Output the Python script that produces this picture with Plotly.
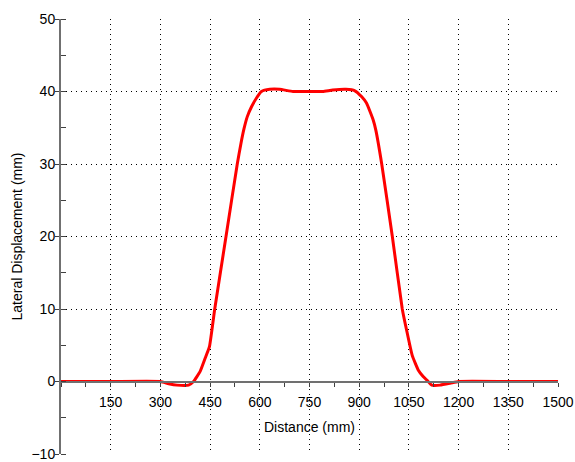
import plotly.graph_objects as go

# Data
distance_mm = [0, 150, 300, 325, 350, 385, 400, 420, 435, 448, 464, 498, 532,
               543, 552, 562, 575, 590, 605, 630, 660, 700, 740, 790, 820, 860,
               887, 907, 922, 942, 950, 968, 1000, 1030, 1043, 1060, 1078, 1093,
               1104, 1119, 1144, 1174, 1200, 1350, 1500]
lateral_mm = [0, 0, 0, -0.3, -0.5, -0.5, 0, 1.4, 3.2, 4.8, 10, 20, 30,
              32.8, 34.8, 36.5, 37.9, 39.1, 40.0, 40.3, 40.3, 40.0, 40.0, 40.0, 40.2, 40.3,
              40.1, 39.3, 38.4, 36.1, 34.7, 30, 20, 10, 7.1, 3.6, 1.6, 0.7,
              0.2, -0.5, -0.5, -0.25, 0, 0, 0]

x_ticks = [150, 300, 450, 600, 750, 900, 1050, 1200, 1350, 1500]
y_ticks = [-10, 0, 10, 20, 30, 40, 50]
x_range = [0, 1500]
y_range = [-10, 50]

FONT = "Liberation Sans, Arial, sans-serif"

fig = go.Figure()
fig.add_trace(go.Scatter(
    x=distance_mm, y=lateral_mm, mode="lines",
    line=dict(color="#ff0000", width=3, shape="spline", smoothing=0.4),
    showlegend=False,
))

fig.update_layout(
    width=575, height=462,
    margin=dict(l=61, r=17, t=19, b=8),
    paper_bgcolor="white", plot_bgcolor="white",
    font=dict(family=FONT, size=14, color="black"),
    xaxis=dict(
        range=x_range, tickvals=x_ticks, ticktext=[str(v) for v in x_ticks],
        anchor="free", position=(0 - y_range[0]) / (y_range[1] - y_range[0]),
        automargin=False, ticklabeloverflow="allow",
        showline=True, linecolor="#707070", linewidth=2,
        ticks="outside", ticklen=4, tickcolor="#404040", tickwidth=1,
        ticklabelstandoff=4,
        minor=dict(dtick=75, tick0=0, ticks="outside", ticklen=4,
                   tickcolor="#404040", showgrid=False),
        showgrid=True, gridcolor="#000000", gridwidth=1, griddash="1px,4px",
        zeroline=False,
        title=dict(text="Distance (mm)", font=dict(size=14), standoff=12),
        tickfont=dict(size=14),
    ),
    yaxis=dict(
        range=y_range, tickvals=y_ticks,
        automargin=False, ticklabeloverflow="allow",
        showline=True, linecolor="#707070", linewidth=2,
        ticks="outside", ticklen=4, tickcolor="#404040", tickwidth=1,
        ticklabelstandoff=-3,
        minor=dict(dtick=5, tick0=0, ticks="inside", ticklen=5,
                   tickcolor="#404040", showgrid=False),
        showgrid=True, gridcolor="#000000", gridwidth=1, griddash="1px,4px",
        zeroline=False,
        title=dict(text="Lateral Displacement (mm)", font=dict(size=14), standoff=6),
        tickfont=dict(size=14),
    ),
)

# Remove the default page margin so the figure fills the window exactly.
fig.write_html(
    "out.html",
    config={"displayModeBar": False},
    post_script="document.body.style.margin='0';document.body.style.overflow='hidden';",
)
